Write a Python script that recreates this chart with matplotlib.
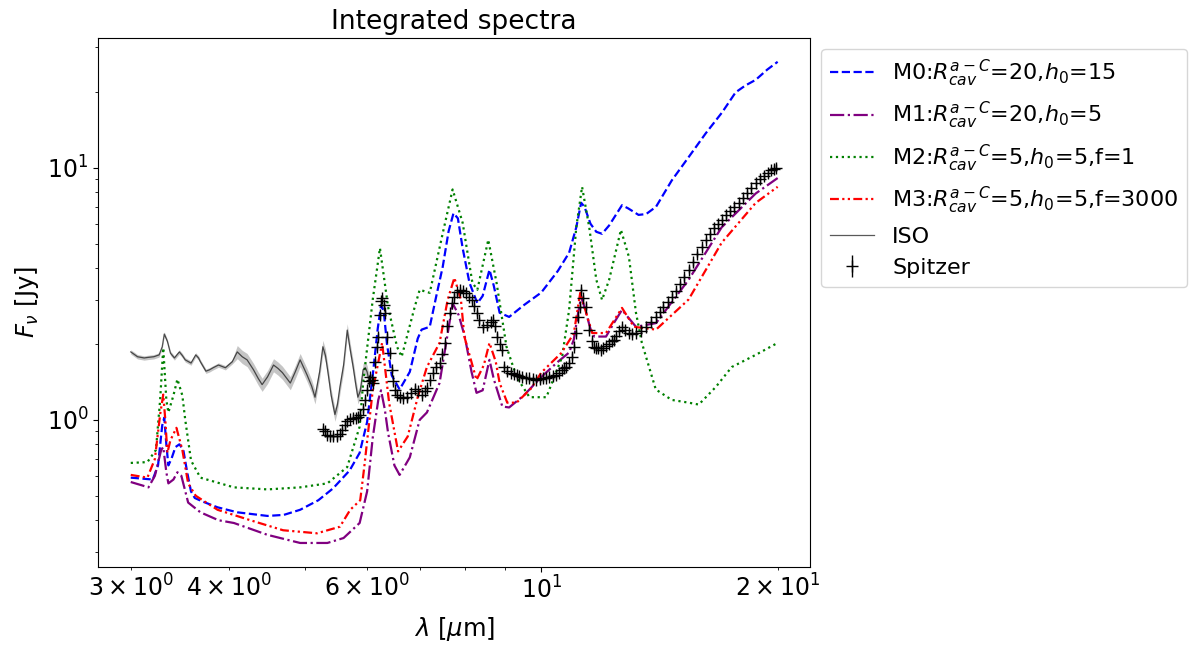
import numpy as np
import matplotlib
matplotlib.use('Agg')
import matplotlib.pyplot as plt

# model SEDs (wavelength in micron, flux in Jy)
m0_wl = [3.00, 3.10, 3.20, 3.25, 3.29, 3.31, 3.33, 3.35, 3.38, 3.42, 3.46, 3.50, 3.54, 3.58,
         3.62, 3.70, 3.87, 4.10, 4.48, 4.70, 4.93, 5.20, 5.43, 5.70, 5.87, 6.00, 6.10, 6.19,
         6.25, 6.30, 6.36, 6.45, 6.60, 6.80, 6.96, 7.04, 7.21, 7.35, 7.49, 7.62, 7.73, 7.83,
         7.94, 8.10, 8.29, 8.42, 8.59, 8.70, 8.85, 9.10, 9.50, 10.0, 10.5, 10.85, 11.08, 11.24,
         11.35, 11.55, 11.75, 11.95, 12.2, 12.67, 12.9, 13.3, 13.6, 14.0, 14.66, 15.4, 16.2,
         17.0, 17.68, 18.2, 18.75, 19.4, 20.0]
m0_flux = [0.59, 0.585, 0.58, 0.66, 0.95, 1.02, 0.80, 0.66, 0.70, 0.78, 0.80, 0.76, 0.62, 0.52,
           0.49, 0.475, 0.45, 0.43, 0.416, 0.42, 0.44, 0.48, 0.535, 0.63, 0.74, 0.98, 1.5, 2.3,
           2.85, 2.7, 2.0, 1.5, 1.32, 1.55, 2.1, 2.28, 2.34, 3.1, 4.05, 5.6, 6.6, 6.3,
           4.8, 3.5, 2.9, 3.1, 3.94, 3.4, 2.66, 2.56, 2.85, 3.2, 3.9, 4.6, 5.8, 7.26,
           7.0, 6.0, 5.57, 5.47, 5.9, 7.1, 6.9, 6.5, 6.55, 7.0, 8.9, 11.0, 13.7,
           16.6, 19.9, 21.2, 22.3, 24.5, 26.3]

m1_wl = [3.00, 3.10, 3.16, 3.22, 3.28, 3.30, 3.33, 3.35, 3.40, 3.44, 3.48, 3.55, 3.68, 3.88,
         4.06, 4.48, 4.93, 5.34, 5.60, 5.87, 6.00, 6.10, 6.20, 6.25, 6.32, 6.38, 6.50, 6.60,
         6.80, 7.00, 7.15, 7.42, 7.60, 7.71, 7.85, 7.99, 8.15, 8.27, 8.42, 8.59, 8.70, 8.92,
         9.10, 9.50, 10.0, 10.5, 10.85, 11.0, 11.15, 11.24, 11.35, 11.55, 11.68, 12.09, 12.4,
         12.67, 12.9, 13.2, 14.0, 15.4, 16.97, 18.75, 20.0]
m1_flux = [0.567, 0.55, 0.54, 0.60, 0.76, 0.78, 0.62, 0.56, 0.58, 0.62, 0.60, 0.47, 0.43, 0.40,
           0.39, 0.35, 0.325, 0.325, 0.34, 0.39, 0.52, 0.85, 1.20, 1.31, 1.10, 0.89, 0.66, 0.605,
           0.71, 1.0, 1.07, 1.40, 2.2, 2.9, 2.6, 2.14, 1.55, 1.28, 1.31, 1.73, 1.45, 1.13,
           1.12, 1.25, 1.48, 1.7, 1.85, 2.08, 2.7, 3.07, 2.8, 2.3, 2.14, 2.14, 2.45,
           2.73, 2.55, 2.34, 2.42, 3.59, 5.8, 7.9, 9.1]

m2_wl = [3.00, 3.15, 3.23, 3.27, 3.30, 3.33, 3.35, 3.40, 3.44, 3.49, 3.52, 3.58, 3.68, 4.06,
         4.48, 4.93, 5.34, 5.66, 5.87, 5.93, 6.10, 6.23, 6.38, 6.55, 6.64, 6.90, 7.00, 7.21,
         7.49, 7.71, 7.94, 8.17, 8.29, 8.56, 8.77, 9.03, 9.30, 9.66, 10.15, 10.63, 10.85,
         11.08, 11.27, 11.51, 11.75, 11.95, 12.20, 12.63, 12.93, 13.20, 13.43, 13.99, 14.66,
         15.41, 15.87, 16.68, 17.48, 18.75, 20.0]
m2_flux = [0.675, 0.68, 0.76, 1.2, 1.93, 1.2, 1.07, 1.25, 1.45, 1.25, 1.0, 0.69, 0.59, 0.54,
           0.53, 0.54, 0.56, 0.65, 0.94, 1.40, 3.0, 4.8, 2.81, 1.95, 1.78, 2.81, 3.28, 3.19,
           5.5, 8.2, 6.05, 3.5, 3.28, 5.18, 3.5, 1.95, 1.48, 1.23, 1.23, 1.78, 2.73,
           5.8, 8.4, 5.8, 3.6, 2.99, 3.59, 5.67, 4.43, 2.66, 2.02, 1.32, 1.2,
           1.17, 1.15, 1.35, 1.62, 1.81, 2.02]

m3_wl = [3.00, 3.10, 3.15, 3.22, 3.27, 3.30, 3.32, 3.34, 3.37, 3.43, 3.49, 3.55, 3.63, 3.87,
         4.26, 4.69, 5.18, 5.54, 5.71, 5.88, 5.95, 6.10, 6.27, 6.40, 6.57, 6.76, 6.96, 7.15,
         7.42, 7.60, 7.75, 7.90, 7.98, 8.27, 8.45, 8.59, 8.75, 8.85, 9.05, 9.30, 9.70, 10.0,
         10.6, 11.0, 11.21, 11.35, 11.61, 12.09, 12.67, 13.12, 14.0, 15.4, 16.97, 18.75, 20.0]
m3_flux = [0.605, 0.595, 0.59, 0.70, 1.05, 1.26, 1.0, 0.74, 0.83, 0.93, 0.76, 0.56, 0.50, 0.44,
           0.40, 0.365, 0.355, 0.377, 0.44, 0.48, 0.65, 1.31, 2.02, 1.17, 0.75, 0.86, 1.23, 1.62,
           2.02, 3.0, 3.66, 3.0, 2.14, 1.44, 1.65, 2.02, 1.7, 1.40, 1.17, 1.17, 1.33, 1.54,
           1.84, 2.2, 3.19, 2.8, 2.21, 2.21, 2.78, 2.34, 2.28, 3.0, 5.04, 7.25, 8.4]

# observations
iso_wl = [3.00, 3.03, 3.06, 3.12, 3.16, 3.21, 3.26, 3.29, 3.31, 3.34, 3.37, 3.41, 3.44, 3.46,
          3.49, 3.52, 3.58, 3.63, 3.66, 3.68, 3.74, 3.78, 3.82, 3.88, 3.96, 4.04, 4.10, 4.16,
          4.22, 4.30, 4.36, 4.41, 4.48, 4.56, 4.62, 4.68, 4.79, 4.86, 4.93, 5.03, 5.10, 5.15,
          5.22, 5.27, 5.31, 5.35, 5.40, 5.46, 5.50, 5.54, 5.60, 5.66, 5.71, 5.76, 5.80, 5.84,
          5.88, 5.93, 5.97, 6.00, 6.03]
iso_flux = [1.86, 1.82, 1.78, 1.76, 1.77, 1.78, 1.81, 1.95, 2.19, 2.05, 1.84, 1.76, 1.82, 1.86,
            1.80, 1.73, 1.68, 1.81, 1.76, 1.70, 1.56, 1.58, 1.61, 1.65, 1.61, 1.70, 1.86, 1.78,
            1.73, 1.58, 1.46, 1.38, 1.48, 1.65, 1.60, 1.54, 1.40, 1.55, 1.73, 1.51, 1.36, 1.23,
            1.55, 1.95, 1.80, 1.54, 1.25, 1.05, 1.15, 1.35, 1.65, 2.27, 1.90, 1.62, 1.40, 1.23,
            1.30, 1.58, 1.61, 1.55, 1.44]

spitzer_wl = [5.27, 5.30, 5.34, 5.38, 5.43, 5.49, 5.54, 5.57, 5.62, 5.66, 5.71, 5.76, 5.80, 5.84,
              5.88, 5.93, 5.97, 6.00, 6.03, 6.05, 6.08, 6.10, 6.14, 6.17, 6.19, 6.23, 6.25, 6.27,
              6.30, 6.32, 6.36, 6.41, 6.45, 6.48, 6.51, 6.55, 6.60, 6.67, 6.74, 6.82, 6.90, 6.96,
              7.04, 7.10, 7.15, 7.21, 7.27, 7.35, 7.42, 7.48, 7.53, 7.59, 7.64, 7.70, 7.75, 7.81,
              7.87, 7.94, 8.03, 8.10, 8.15, 8.21, 8.27, 8.34, 8.42, 8.54, 8.62, 8.67, 8.73, 8.79,
              8.85, 8.90, 8.97, 9.05, 9.16, 9.23, 9.30, 9.38, 9.46, 9.56, 9.66, 9.76, 9.86, 9.95,
              10.05, 10.15, 10.24, 10.35, 10.45, 10.54, 10.63, 10.70, 10.76, 10.85, 10.95, 11.02,
              11.08, 11.15, 11.21, 11.25, 11.31, 11.41, 11.51, 11.61, 11.68, 11.74, 11.80, 11.92,
              12.0, 12.09, 12.2, 12.3, 12.38, 12.46, 12.55, 12.67, 12.80, 12.93, 13.06, 13.20,
              13.4, 13.59, 13.8, 14.0, 14.15, 14.3, 14.48, 14.66, 14.83, 15.0, 15.2, 15.41, 15.6,
              15.8, 16.0, 16.2, 16.4, 16.6, 16.8, 16.97, 17.2, 17.4, 17.62, 17.84, 18.07, 18.3,
              18.52, 18.75, 18.97, 19.2, 19.42, 19.64, 19.8, 19.93]
spitzer_flux = [0.92, 0.90, 0.87, 0.86, 0.86, 0.86, 0.88, 0.91, 0.95, 0.99, 1.01, 1.02, 1.02, 1.03,
                1.05, 1.10, 1.20, 1.31, 1.42, 1.48, 1.44, 1.40, 1.70, 1.95, 2.14, 2.60, 2.95, 3.05,
                2.85, 2.66, 2.14, 1.84, 1.58, 1.42, 1.31, 1.26, 1.23, 1.22, 1.23, 1.28, 1.33, 1.30,
                1.26, 1.30, 1.34, 1.44, 1.54, 1.62, 1.68, 1.82, 2.02, 2.35, 2.66, 2.90, 3.08, 3.20,
                3.28, 3.25, 3.19, 3.08, 2.99, 2.82, 2.66, 2.48, 2.34, 2.38, 2.45, 2.49, 2.35, 2.14,
                2.00, 1.90, 1.62, 1.56, 1.54, 1.52, 1.50, 1.49, 1.48, 1.47, 1.46, 1.45, 1.44, 1.45,
                1.46, 1.47, 1.48, 1.49, 1.50, 1.54, 1.58, 1.60, 1.62, 1.68, 1.78, 1.95,
                2.21, 2.55, 2.81, 3.28, 3.05, 2.81, 2.27, 2.05, 1.95, 1.93, 1.92, 1.90,
                1.93, 1.97, 2.00, 2.05, 2.08, 2.15, 2.25, 2.34, 2.28, 2.21, 2.20, 2.21,
                2.26, 2.34, 2.45, 2.56, 2.68, 2.80, 2.93, 3.08, 3.25, 3.45, 3.68, 3.94, 4.22,
                4.55, 4.85, 5.18, 5.45, 5.75, 5.98, 6.20, 6.48, 6.75, 7.00, 7.25, 7.60, 7.95,
                8.32, 8.70, 9.00, 9.30, 9.55, 9.80, 9.92, 10.0]

iso_wl = np.array(iso_wl)
iso_flux = np.array(iso_flux)
iso_err = iso_flux * np.where(iso_wl < 4.05, 0.02, 0.06)
spitzer_flux = np.array(spitzer_flux)
spitzer_err = 0.03 * spitzer_flux

fig, ax = plt.subplots(figsize=(12, 6.51), dpi=100)
fig.subplots_adjust(left=0.082, right=0.675, top=0.942, bottom=0.129)

ax.plot(m0_wl, m0_flux, color='blue', ls='--', lw=1.6,
        label=r'M0:$R_{cav}^{a-C}$=20,$h_0$=15')
ax.plot(m1_wl, m1_flux, color='purple', ls='-.', lw=1.6,
        label=r'M1:$R_{cav}^{a-C}$=20,$h_0$=5')
ax.plot(m2_wl, m2_flux, color='green', ls=':', lw=1.6,
        label=r'M2:$R_{cav}^{a-C}$=5,$h_0$=5,f=1')
ax.plot(m3_wl, m3_flux, color='red', ls=(0, (4, 1.5, 1, 1.5, 1, 1.5)), lw=1.6,
        label=r'M3:$R_{cav}^{a-C}$=5,$h_0$=5,f=3000')

ax.fill_between(iso_wl, iso_flux - iso_err, iso_flux + iso_err, color='gray', alpha=0.45, lw=0)
ax.plot(iso_wl, iso_flux, color='k', lw=0.9, alpha=0.65, label='ISO')

ax.errorbar(spitzer_wl, spitzer_flux, yerr=spitzer_err, fmt='+', color='k',
            markersize=8, elinewidth=1, label='Spitzer')

ax.set_xscale('log')
ax.set_yscale('log')
ax.tick_params(axis='both', which='both', labelsize=17)
ax.set_xlabel(r'$\lambda$ [$\mu$m]', fontsize=17.5, labelpad=8)
ax.set_ylabel(r'$F_{\nu}$ [Jy]', fontsize=17.5)
ax.set_title('Integrated spectra', fontsize=19)

ax.legend(loc='upper left', bbox_to_anchor=(1.0, 1.0), fontsize=16)

fig.savefig('out.png', dpi=100)
